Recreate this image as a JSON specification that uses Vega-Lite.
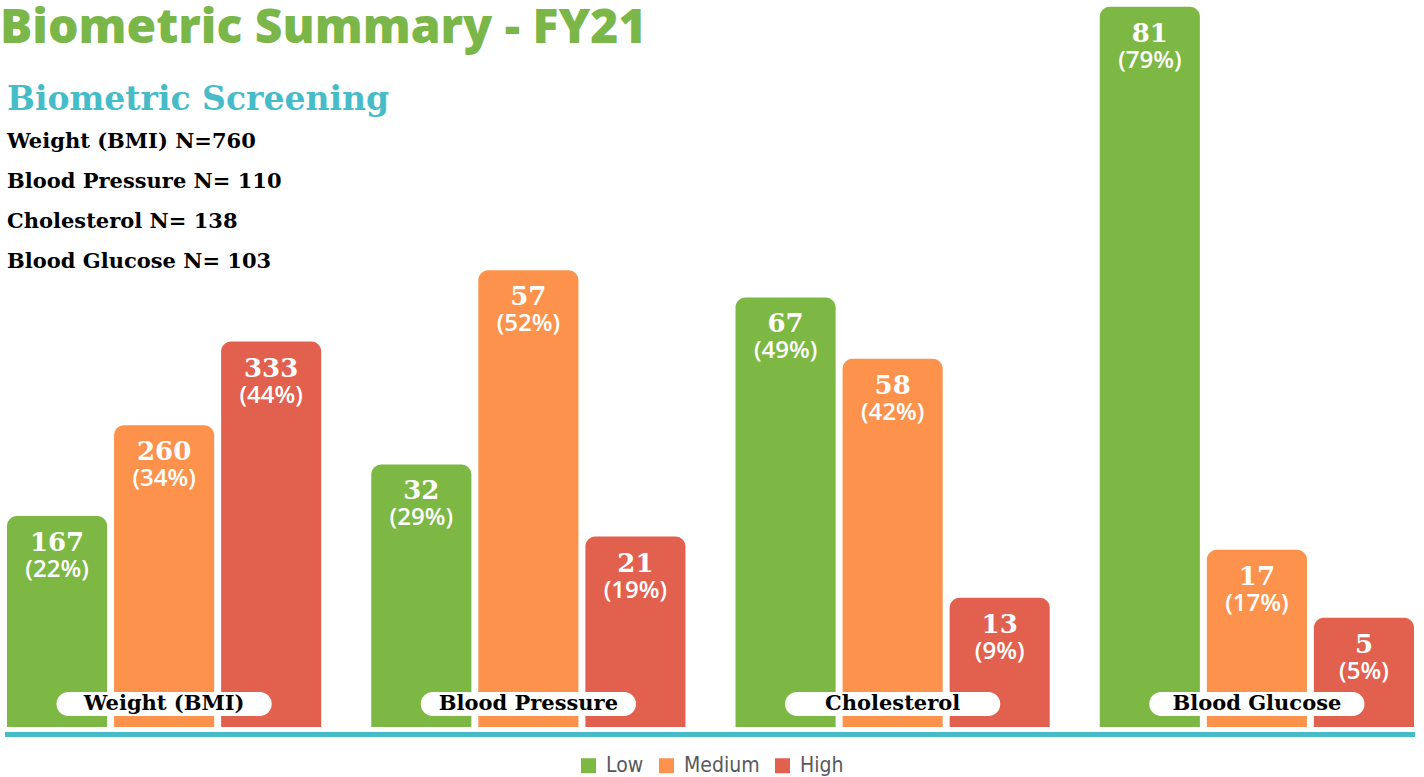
{
  "$schema": "https://vega.github.io/schema/vega-lite/v6.json",
  "width": 1407,
  "height": 727,
  "padding": 0,
  "background": "white",
  "title": {
    "text": "Biometric Summary - FY21",
    "anchor": "start",
    "frame": "group",
    "offset": -53,
    "dx": -7,
    "font": "Open Sans",
    "fontSize": 48,
    "fontWeight": 800,
    "color": "#7ab648"
  },
  "config": {
    "view": {"stroke": null},
    "legend": {"layout": {"bottom": {"anchor": "middle"}}}
  },
  "data": {
    "values": [
      {"metric": "Weight (BMI)", "level": "Low", "count": 167, "pct": 22},
      {"metric": "Weight (BMI)", "level": "Medium", "count": 260, "pct": 34},
      {"metric": "Weight (BMI)", "level": "High", "count": 333, "pct": 44},
      {"metric": "Blood Pressure", "level": "Low", "count": 32, "pct": 29},
      {"metric": "Blood Pressure", "level": "Medium", "count": 57, "pct": 52},
      {"metric": "Blood Pressure", "level": "High", "count": 21, "pct": 19},
      {"metric": "Cholesterol", "level": "Low", "count": 67, "pct": 49},
      {"metric": "Cholesterol", "level": "Medium", "count": 58, "pct": 42},
      {"metric": "Cholesterol", "level": "High", "count": 13, "pct": 9},
      {"metric": "Blood Glucose", "level": "Low", "count": 81, "pct": 79},
      {"metric": "Blood Glucose", "level": "Medium", "count": 17, "pct": 17},
      {"metric": "Blood Glucose", "level": "High", "count": 5, "pct": 5}
    ]
  },
  "encoding": {
    "x": {
      "field": "metric",
      "type": "nominal",
      "sort": ["Weight (BMI)", "Blood Pressure", "Cholesterol", "Blood Glucose"],
      "scale": {"paddingInner": 0.1374, "paddingOuter": 0},
      "axis": {"title": null, "labels": false, "ticks": false, "grid": false, "domainColor": "#46bcc9", "domainWidth": 5, "domainCap": "square", "offset": 7}
    }
  },
  "layer": [
    {
      "mark": {"type": "bar", "cornerRadiusTopLeft": 10, "cornerRadiusTopRight": 10},
      "encoding": {
        "xOffset": {"field": "level", "type": "nominal", "sort": ["Low", "Medium", "High"], "scale": {"paddingInner": 0.065, "paddingOuter": 0}},
        "y": {"field": "pct", "type": "quantitative", "scale": {"type": "pow", "exponent": 1.3, "domain": [-18, 79.66], "zero": false, "nice": false}, "axis": null},
        "y2": {"datum": -18},
        "color": {
          "field": "level",
          "type": "nominal",
          "sort": ["Low", "Medium", "High"],
          "scale": {"domain": ["Low", "Medium", "High"], "range": ["#7cb843", "#fd924c", "#e2604e"]},
          "legend": {
            "title": null,
            "orient": "bottom",
            "direction": "horizontal",
            "symbolType": "square",
            "symbolSize": 225,
            "symbolStrokeWidth": 0,
            "labelFont": "DejaVu Sans Condensed",
            "labelFontSize": 21,
            "labelColor": "#58595b",
            "labelOffset": 7,
            "columnPadding": 12,
            "offset": 21
          }
        }
      }
    },
    {
      "mark": {"type": "text", "fill": "white", "font": "DejaVu Serif", "fontWeight": "bold", "fontSize": 26, "baseline": "alphabetic", "dy": 35},
      "encoding": {
        "xOffset": {"field": "level", "type": "nominal", "sort": ["Low", "Medium", "High"]},
        "y": {"field": "pct", "type": "quantitative"},
        "text": {"field": "count", "type": "quantitative"}
      }
    },
    {
      "transform": [{"calculate": "'(' + datum.pct + '%)'", "as": "pctLabel"}],
      "mark": {"type": "text", "fill": "white", "font": "Open Sans", "fontWeight": 600, "fontSize": 24, "baseline": "alphabetic", "dy": 61},
      "encoding": {
        "xOffset": {"field": "level", "type": "nominal", "sort": ["Low", "Medium", "High"]},
        "y": {"field": "pct", "type": "quantitative"},
        "text": {"field": "pctLabel", "type": "nominal"}
      }
    },
    {
      "transform": [{"filter": "datum.level === 'Low'"}],
      "mark": {"type": "bar", "fill": "white", "cornerRadius": 12, "width": {"band": 0.685}},
      "encoding": {
        "y": {"datum": -12.45},
        "y2": {"datum": -16.32}
      }
    },
    {
      "transform": [{"filter": "datum.level === 'Low'"}],
      "mark": {"type": "text", "fill": "black", "font": "DejaVu Serif", "fontWeight": "bold", "fontSize": 21, "baseline": "middle"},
      "encoding": {
        "y": {"datum": -14.42},
        "text": {"field": "metric", "type": "nominal"}
      }
    },
    {
      "data": {"values": [{"note": "Biometric Screening"}]},
      "mark": {"type": "text", "fill": "#46bcc9", "font": "DejaVu Serif", "fontWeight": "bold", "fontSize": 33, "align": "left", "baseline": "alphabetic"},
      "encoding": {
        "x": {"datum": "Weight (BMI)", "bandPosition": 0},
        "y": {"datum": 68.83},
        "text": {"field": "note", "type": "nominal"}
      }
    },
    {
      "data": {"values": [{"note": "Weight (BMI) N=760\nBlood Pressure N= 110\nCholesterol N= 138\nBlood Glucose N= 103"}]},
      "mark": {"type": "text", "fill": "black", "font": "DejaVu Serif", "fontWeight": "bold", "fontSize": 21, "align": "left", "baseline": "alphabetic", "lineBreak": "\n", "lineHeight": 40},
      "encoding": {
        "x": {"datum": "Weight (BMI)", "bandPosition": 0},
        "y": {"datum": 64.97},
        "text": {"field": "note", "type": "nominal"}
      }
    }
  ]
}
